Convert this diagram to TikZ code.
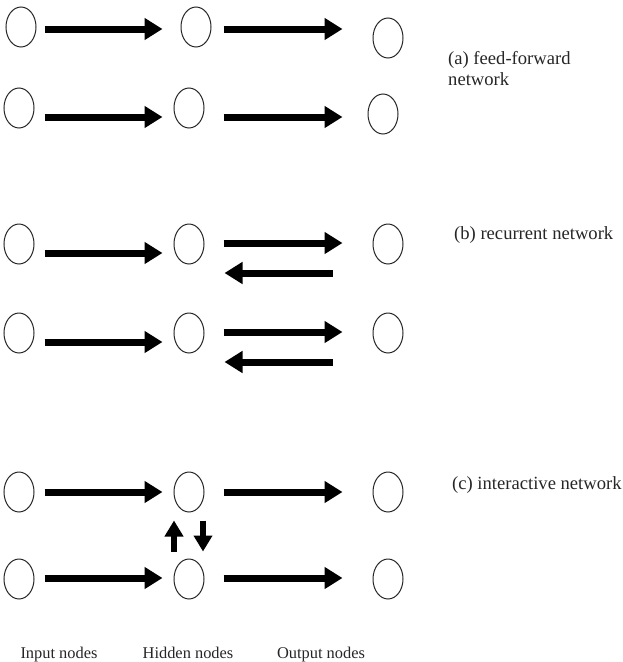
\documentclass[tikz,border=0pt]{standalone}
\usepackage{fontspec}
\setmainfont{Liberation Serif}
\usetikzlibrary{shapes.geometric,arrows.meta}
\begin{document}
\begin{tikzpicture}[x=1pt,y=-1pt,
  unit/.style={draw=black!85,line width=1pt,ellipse,minimum width=30pt,minimum height=40pt,inner sep=0pt},
  bigarrow/.style={line width=7pt,-{Triangle[length=18pt,width=21pt]}},
  vertarrow/.style={line width=6pt,-{Triangle[length=16pt,width=18pt]}},
  caption/.style={font=\fontsize{18.6}{20}\selectfont,text=black!85,inner sep=0pt},
  colname/.style={font=\fontsize{16.4}{18}\selectfont,text=black!85,inner sep=0pt,anchor=base}]
\useasboundingbox (0,0) rectangle (623,662);

% (a) feed-forward
\node[unit] (ia1) at (21,27) {};
\node[unit] (ha1) at (196,27) {};
\node[unit] (oa1) at (388,38) {};
\node[unit] (ia2) at (19,108) {};
\node[unit] (ha2) at (189,108) {};
\node[unit] (oa2) at (383,114) {};
\coordinate (ya1) at (0,29);
\coordinate (ya2) at (0,117);
\draw[bigarrow,shorten <=8pt,shorten >=18pt] (ia1.east |- ya1) -- (ha1.west |- ya1);
\draw[bigarrow,shorten <=12pt,shorten >=30pt] (ha1.east |- ya1) -- (oa1.west |- ya1);
\draw[bigarrow,shorten <=10pt,shorten >=11pt] (ia2.east |- ya2) -- (ha2.west |- ya2);
\draw[bigarrow,shorten <=19pt,shorten >=25pt] (ha2.east |- ya2) -- (oa2.west |- ya2);

% (b) recurrent
\node[unit] (ib1) at (19,244) {};
\node[unit] (hb1) at (189,244) {};
\node[unit] (ob1) at (388,244) {};
\node[unit] (ib2) at (19,333) {};
\node[unit] (hb2) at (189,333) {};
\node[unit] (ob2) at (388,333) {};
\coordinate (yb1) at (0,253);
\coordinate (yb1r) at (0,243);
\coordinate (yb1l) at (0,273);
\coordinate (yb2) at (0,342);
\coordinate (yb2r) at (0,332);
\coordinate (yb2l) at (0,362);
\draw[bigarrow,shorten <=10pt,shorten >=11pt] (ib1.east |- yb1) -- (hb1.west |- yb1);
\draw[bigarrow,shorten <=19pt,shorten >=30pt] (hb1.east |- yb1r) -- (ob1.west |- yb1r);
\draw[bigarrow,shorten <=40pt,shorten >=20pt] (ob1.west |- yb1l) -- (hb1.east |- yb1l);
\draw[bigarrow,shorten <=10pt,shorten >=11pt] (ib2.east |- yb2) -- (hb2.west |- yb2);
\draw[bigarrow,shorten <=19pt,shorten >=30pt] (hb2.east |- yb2r) -- (ob2.west |- yb2r);
\draw[bigarrow,shorten <=40pt,shorten >=20pt] (ob2.west |- yb2l) -- (hb2.east |- yb2l);

% (c) interactive
\node[unit] (ic1) at (19,492) {};
\node[unit] (hc1) at (189,492) {};
\node[unit] (oc1) at (388,492) {};
\node[unit] (ic2) at (19,579) {};
\node[unit] (hc2) at (189,579) {};
\node[unit] (oc2) at (388,579) {};
\coordinate (yc1) at (0,492);
\coordinate (yc2) at (0,578);
\draw[bigarrow,shorten <=10pt,shorten >=11pt] (ic1.east |- yc1) -- (hc1.west |- yc1);
\draw[bigarrow,shorten <=19pt,shorten >=30pt] (hc1.east |- yc1) -- (oc1.west |- yc1);
\draw[bigarrow,shorten <=10pt,shorten >=11pt] (ic2.east |- yc2) -- (hc2.west |- yc2);
\draw[bigarrow,shorten <=19pt,shorten >=30pt] (hc2.east |- yc2) -- (oc2.west |- yc2);
\draw[vertarrow,shorten <=7pt,shorten >=8pt] ([xshift=-15pt]hc2.north) -- ([xshift=-15pt]hc1.south);
\draw[vertarrow,shorten <=8pt,shorten >=7pt] ([xshift=14pt]hc1.south) -- ([xshift=14pt]hc2.north);

% captions
\node[caption,anchor=base west] (capa) at (448,64) {(a) feed-forward};
\node[caption,anchor=base west] (capa2) at (448,85) {network};
\node[caption,anchor=base west] (capb) at (454,239) {(b) recurrent network};
\node[caption,anchor=base west] (capc) at (452,489) {(c) interactive network};

\node[colname] (lin) at (59,658) {Input nodes};
\node[colname] (lhid) at (188,658) {Hidden nodes};
\node[colname] (lout) at (321,658) {Output nodes};
\end{tikzpicture}
\end{document}
